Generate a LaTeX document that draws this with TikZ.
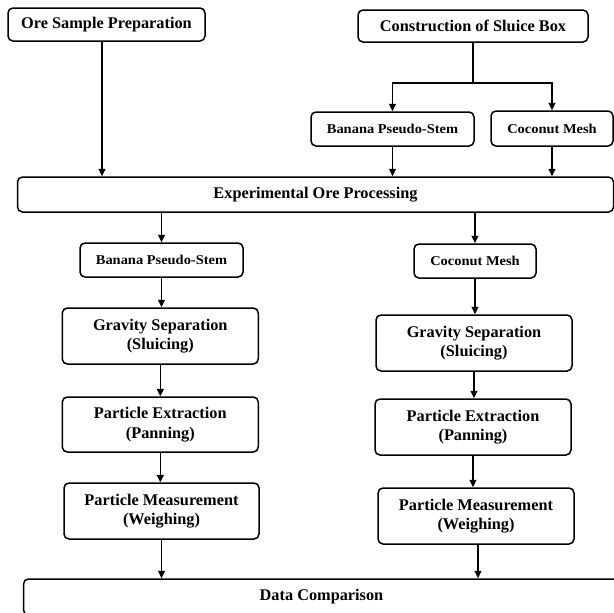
\documentclass[tikz,border=0pt]{standalone}
\usepackage{fontspec}
\setmainfont{Liberation Serif}
\newfontfamily\stemfont{Liberation Serif}[FakeStretch=1.07]
\usetikzlibrary{arrows.meta,positioning}

\begin{document}
\begin{tikzpicture}[
  x=1pt, y=-1pt,
  box/.style={draw, line width=1.5pt, rounded corners=5pt, align=center, inner sep=2pt,
    font=\fontsize{16.3}{19.5}\selectfont\bfseries},
  tag/.style={box, font=\stemfont\fontsize{13.5}{16}\selectfont\bfseries},
  arr/.style={line width=1.6pt, -{Triangle[length=7.5pt,width=7pt]}}
]
\clip (0,0) rectangle (614,613);
\node[box, minimum width=197pt, minimum height=33pt] (ore) at (106.5,24.5) {Ore Sample Preparation};
\node[box, minimum width=230pt, minimum height=32pt] (sluice) at (473,26) {Construction of Sluice Box};
\node[tag, minimum width=163pt, minimum height=34pt] (stemtop) at (392.5,129) {Banana Pseudo-Stem};
\node[tag, minimum width=122pt, minimum height=35pt] (meshtop) at (552,128.5) {Coconut Mesh};
\node[box, minimum width=596pt, minimum height=35pt] (expt) at (315.5,194.5) {Experimental Ore Processing};
\node[tag, minimum width=163pt, minimum height=34pt] (stemL) at (161.5,260) {Banana Pseudo-Stem};
\node[tag, minimum width=122pt, minimum height=34pt] (meshR) at (475,261) {Coconut Mesh};
\node[box, minimum width=196pt, minimum height=56pt] (gravL) at (160.3,336) {Gravity Separation\\(Sluicing)};
\node[box, minimum width=196pt, minimum height=55pt] (panL) at (160.3,424.5) {Particle Extraction\\(Panning)};
\node[box, minimum width=195pt, minimum height=56pt] (weighL) at (161.5,511) {Particle Measurement\\(Weighing)};
\node[box, minimum width=196pt, minimum height=56pt] (gravR) at (474,343) {Gravity Separation\\(Sluicing)};
\node[box, minimum width=196pt, minimum height=56pt] (panR) at (473,427) {Particle Extraction\\(Panning)};
\node[box, minimum width=196pt, minimum height=56pt] (weighR) at (476,516) {Particle Measurement\\(Weighing)};
\node[box, minimum width=596pt, minimum height=36pt] (data) at (321.5,597) {Data Comparison};
\draw[arr] ([xshift=-4.5pt]ore.south) -- ([xshift=-4.5pt]ore.south |- expt.north);
\draw[line width=1.6pt] (sluice.south) -- ++(0,40) coordinate (fork);
\draw[arr] (fork) -| (stemtop.north);
\draw[arr] (fork) -| (meshtop.north);
\draw[arr] (stemtop.south) -- (stemtop.south |- expt.north);
\draw[arr] (meshtop.south) -- (meshtop.south |- expt.north);
\draw[arr] (expt.south -| stemL.north) -- (stemL.north);
\draw[arr] (expt.south -| meshR.north) -- (meshR.north);
\draw[arr] (stemL.south) -- (stemL.south |- gravL.north);
\draw[arr] (gravL.south) -- (gravL.south |- panL.north);
\draw[arr] (panL.south) -- (panL.south |- weighL.north);
\draw[arr] (weighL.south) -- (weighL.south |- data.north);
\draw[arr] (meshR.south) -- (meshR.south |- gravR.north);
\draw[arr] (gravR.south) -- (gravR.south |- panR.north);
\draw[arr] (panR.south) -- (panR.south |- weighR.north);
\draw[arr] ([xshift=2pt]weighR.south) -- ([xshift=2pt]weighR.south |- data.north);
\end{tikzpicture}
\end{document}
